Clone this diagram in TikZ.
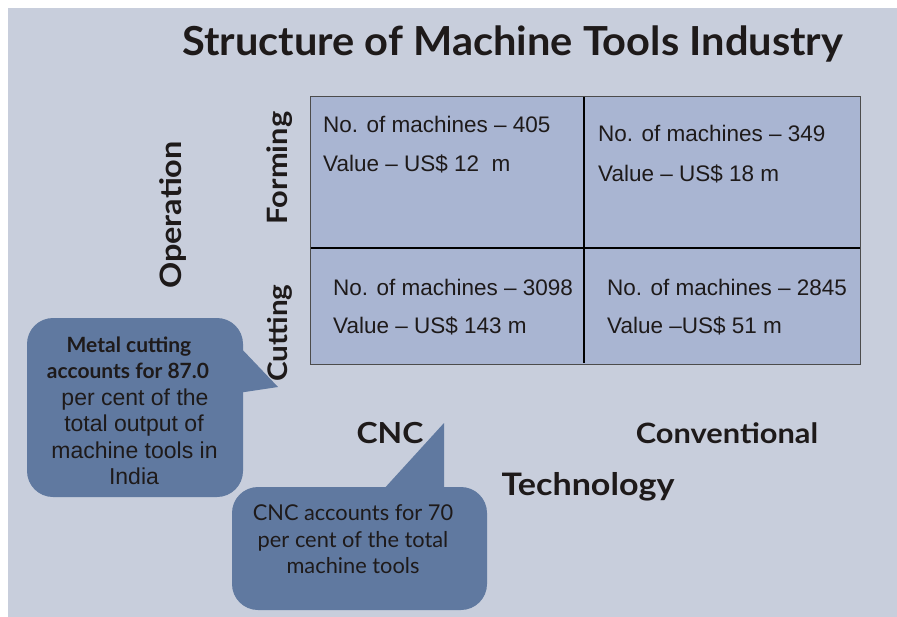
\documentclass[tikz,border=0pt]{standalone}
\usepackage{fontspec}
\setmainfont{Liberation Sans}
\newfontfamily\gill{Lato}
\newfontfamily\gillw{Lato}[FakeStretch=1.1]
\newfontfamily\gillt{Lato}[FakeStretch=1.04]
\definecolor{bgc}{HTML}{C8CEDC}
\definecolor{cellc}{HTML}{A9B5D2}
\definecolor{bubc}{HTML}{6079A0}
\definecolor{txt}{HTML}{1E1A1A}
\tikzset{
  celltxt/.style={anchor=base west, inner sep=0pt, text=txt, font=\fontsize{22.5}{26}\selectfont},
  headtxt/.style={anchor=base, inner sep=0pt, text=txt, font=\gillw\bfseries\fontsize{28}{32}\selectfont},
  sidetxt/.style={anchor=base, inner sep=0pt, rotate=90, text=txt, font=\gillw\bfseries\fontsize{28}{32}\selectfont},
  bubbold/.style={anchor=base, inner sep=0pt, text=txt, font=\gill\bfseries\fontsize{21}{25}\selectfont},
  bubreg/.style={anchor=base, inner sep=0pt, text=txt, font=\fontsize{23}{27}\selectfont},
  bubgill/.style={anchor=base, inner sep=0pt, text=txt, font=\gill\fontsize{21.8}{25}\selectfont},
  bubble/.style={fill=bubc, draw=none},
}
\begin{document}
\begin{tikzpicture}[x=1pt,y=-1pt]
\useasboundingbox (0,0) rectangle (897,616);
\fill[white] (-5,-5) rectangle (905,625);
\fill[bgc] (8,8) rectangle (905,625);
% title
\node[anchor=base west, inner sep=0pt, text=txt, font=\gillt\bfseries\fontsize{40}{46}\selectfont] (title) at (182,55) {Structure of Machine Tools Industry};
% grid
\fill[cellc] (310,96) rectangle (860,364);
\draw[line width=2pt, black] (584,96) -- (584,363);
\draw[line width=2pt, black] (310,248) -- (860,248);
\draw[line width=0.9pt, black!70] (310,96) rectangle (860,364);
\node[celltxt] (a1) at (323,132) {No. of machines – 405};
\node[celltxt] (a2) at (323,171) {Value – US\$ 12\ \ m};
\node[celltxt] (b1) at (598,141) {No. of machines – 349};
\node[celltxt] (b2) at (598,181) {Value – US\$ 18 m};
\node[celltxt] (c1) at (333,295) {No. of machines – 3098};
\node[celltxt] (c2) at (333,333) {Value – US\$ 143 m};
\node[celltxt] (d1) at (607,295) {No. of machines – 2845};
\node[celltxt] (d2) at (607,333) {Value –US\$ 51 m};
% side labels
\node[sidetxt, font=\gillw\bfseries\fontsize{29.5}{33}\selectfont] (oper) at (181,215) {Operation};
\node[sidetxt] (form) at (287,168) {Forming};
\node[sidetxt, font=\gillw\bfseries\fontsize{27}{31}\selectfont] (cut) at (287,333) {Cutting};
% bubbles
\fill[bubble, rounded corners=26pt] (27,318) rectangle (243,497);
\fill[bubble] (238,345) -- (278,387) -- (238,393) -- cycle;
\fill[bubble, rounded corners=26pt] (232,487) rectangle (487,610);
\fill[bubble] (382,491) -- (444,423) -- (444,491) -- cycle;
% bottom labels
\node[headtxt, font=\gillw\bfseries\fontsize{29}{33}\selectfont] (cnc) at (390,443) {CNC};
\node[headtxt] (conv) at (727,443) {Conventional};
\node[headtxt, font=\gillw\bfseries\fontsize{31}{35}\selectfont] (tech) at (588,495) {Technology};
% bubble 1 text
\node[bubbold] (m1) at (129,352) {Metal cutting};
\node[bubbold] (m2) at (128,378.5) {accounts for 87.0};
\node[bubreg] (m3) at (135,405) {per cent of the};
\node[bubreg] (m4) at (134,431.5) {total output of};
\node[bubreg] (m5) at (134.5,458) {machine tools in};
\node[bubreg] (m6) at (134,484) {India};
% bubble 2 text
\node[bubgill] (n1) at (353,520) {CNC accounts for 70};
\node[bubgill] (n2) at (353,547) {per cent of the total};
\node[bubgill] (n3) at (353,573) {machine tools};
\end{tikzpicture}
\end{document}
